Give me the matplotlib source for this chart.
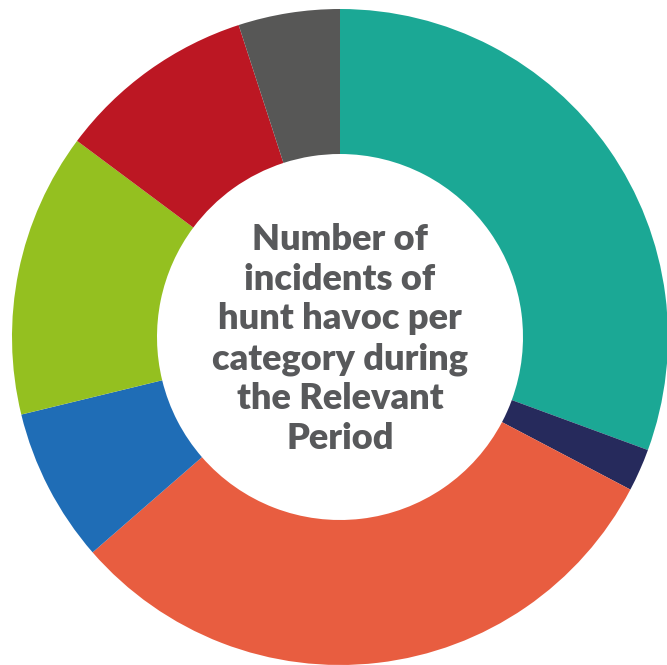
import matplotlib.pyplot as plt

# share of incidents per category, clockwise from 12 o'clock
categories = ["Teal", "Navy", "Orange", "Blue", "Green", "Red", "Grey"]
values = [30.6, 2.1, 30.9, 7.6, 14.0, 9.8, 5.0]
colors = ["#1BA895", "#262A5C", "#E85D40", "#1F6DB6", "#94C020", "#BC1723", "#575756"]

title = "Number of\nincidents of\nhunt havoc per\ncategory during\nthe Relevant\nPeriod"

W, H = 667, 665
cx, cy = 340, H - 337
r_out, r_in = 328, 183

fig = plt.figure(figsize=(W / 100, H / 100), dpi=100)
ax = fig.add_axes([0, 0, 1, 1])

ax.pie(values, colors=colors, startangle=90, counterclock=False,
       center=(cx, cy), radius=r_out,
       wedgeprops=dict(width=r_out - r_in, linewidth=0))

ax.set_xlim(0, W)
ax.set_ylim(0, H)
ax.set_aspect("equal")
ax.axis("off")

ax.text(cx, cy - 2, title, ha="center", va="center", fontsize=26,
        fontfamily="Lato", fontweight="heavy", color="#58595B",
        linespacing=1.25)

fig.savefig("out.png", dpi=100)
